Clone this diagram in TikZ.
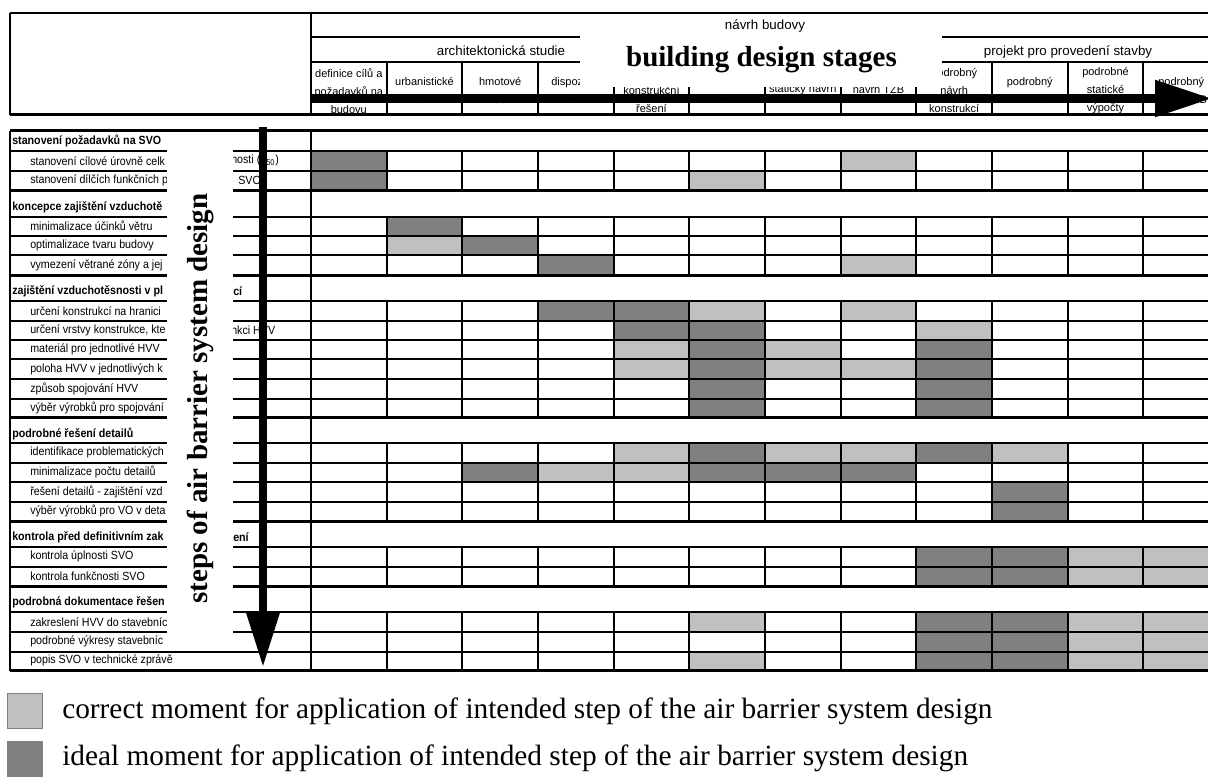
\documentclass[tikz,border=0pt]{standalone}
\usepackage{fontspec}
\setmainfont{Liberation Serif}
\newfontfamily\tabfont{Liberation Sans}
\newfontfamily\rowfont[FakeStretch=0.9]{Liberation Sans}
\usetikzlibrary{arrows.meta}

\definecolor{dkgray}{RGB}{128,128,128}
\definecolor{ltgray}{RGB}{192,192,192}

\tikzset{
  grid line/.style={line width=1.5pt},
  sect line/.style={line width=2.25pt},
  idealcell/.style={fill=dkgray},
  correctcell/.style={fill=ltgray},
  rowtext/.style={anchor=west,inner sep=0pt,font=\rowfont\fontsize{8.9}{10}\selectfont},
  secttext/.style={anchor=west,inner sep=0pt,font=\rowfont\bfseries\fontsize{8.9}{10}\selectfont},
  headtext/.style={align=center,inner sep=0pt,font=\tabfont\fontsize{8.25}{13.5}\selectfont},
  grouptext/.style={inner sep=0pt,font=\tabfont\fontsize{10}{12}\selectfont},
  bigtitle/.style={inner sep=0pt,font=\bfseries\fontsize{21.75}{26}\selectfont},
  legbox/.style={draw=gray,minimum size=26.25pt,inner sep=0pt},
  legtext/.style={anchor=west,inner sep=0pt,font=\fontsize{22}{26}\selectfont}
}

% one grey cell of the table: column, top of row, style
\newcommand{\gcell}[3]{\fill[#3] ({311+(#1-1)*75.67},#2) rectangle ({311+#1*75.67},{#2+19.6});}

\begin{document}
\begin{tikzpicture}[x=0.75pt,y=-0.75pt]
\useasboundingbox (0,0) rectangle (1208,784);
\clip (0,0) rectangle (1208,784);

% head of the table
\draw[grid line] (10,13.3) -- (1219,13.3);
\draw[sect line] (10,115) -- (1219,115);
\draw[grid line] (10,13.3) -- (10,115);
\draw[grid line] (311,13.3) -- (311,115);
\draw[grid line] (311,37.3) -- (1219,37.3);
\draw[grid line] (311,62.3) -- (1219,62.3);
\foreach \c in {1,...,11}
  \draw[grid line] ({311+\c*75.67},62.3) -- ({311+\c*75.67},115);

\node[grouptext] (g0) at (765,26) {návrh budovy};
\node[grouptext] (g1) at (501,50.5) {architektonická studie};
\node[grouptext] (g2) at (1068,51.5) {projekt pro provedení stavby};

\node[headtext] (k1) at (348.8,91) {definice cílů a\\požadavků na\\budovu};
\node[headtext] (k2) at (424.5,91) {urbanistické\\řešení};
\node[headtext] (k3) at (500.2,91) {hmotové\\řešení};
\node[headtext] (k4) at (575.8,91) {dispoziční\\řešení};
\node[headtext] (k5) at (651.5,100) {konstrukční\\řešení};
\node[headtext] (k6) at (727.2,100) {návrh};
\node[headtext] (k7) at (802.8,90) {statický návrh};
\node[headtext] (k8) at (878.5,90) {návrh TZB};
\node[headtext] (k9) at (954.2,91) {podrobný\\návrh\\konstrukcí};
\node[headtext] (k10) at (1029.8,91) {podrobný\\návrh detailů};
\node[headtext] (k11) at (1105.5,91) {podrobné\\statické\\výpočty};
\node[headtext] (k12) at (1181.2,91) {podrobný\\návrh TZB};

\fill[white] (580,34) rectangle (942,87);
\node[bigtitle] (htitle) at (761.5,60) {building design stages};

% grey cells
\foreach \c/\s in {1/idealcell,8/correctcell} {\gcell{\c}{151}{\s}}
\foreach \c/\s in {1/idealcell,6/correctcell} {\gcell{\c}{170.7}{\s}}
\foreach \c/\s in {2/idealcell} {\gcell{\c}{216.7}{\s}}
\foreach \c/\s in {2/correctcell,3/idealcell} {\gcell{\c}{236}{\s}}
\foreach \c/\s in {4/idealcell,8/correctcell} {\gcell{\c}{255.3}{\s}}
\foreach \c/\s in {4/idealcell,5/idealcell,6/correctcell,8/correctcell} {\gcell{\c}{301}{\s}}
\foreach \c/\s in {5/idealcell,6/idealcell,9/correctcell} {\gcell{\c}{320.7}{\s}}
\foreach \c/\s in {5/correctcell,6/idealcell,7/correctcell,9/idealcell} {\gcell{\c}{340}{\s}}
\foreach \c/\s in {5/correctcell,6/idealcell,7/correctcell,8/correctcell,9/idealcell} {\gcell{\c}{359.3}{\s}}
\foreach \c/\s in {6/idealcell,9/idealcell} {\gcell{\c}{379}{\s}}
\foreach \c/\s in {6/idealcell,9/idealcell} {\gcell{\c}{399}{\s}}
\foreach \c/\s in {5/correctcell,6/idealcell,7/correctcell,8/correctcell,9/idealcell,10/correctcell} {\gcell{\c}{443.3}{\s}}
\foreach \c/\s in {3/idealcell,4/correctcell,5/correctcell,6/idealcell,7/idealcell,8/idealcell} {\gcell{\c}{462.7}{\s}}
\foreach \c/\s in {10/idealcell} {\gcell{\c}{482.3}{\s}}
\foreach \c/\s in {10/idealcell} {\gcell{\c}{501.7}{\s}}
\foreach \c/\s in {9/idealcell,10/idealcell,11/correctcell,12/correctcell} {\gcell{\c}{547.3}{\s}}
\foreach \c/\s in {9/idealcell,10/idealcell,11/correctcell,12/correctcell} {\gcell{\c}{566.7}{\s}}
\foreach \c/\s in {6/correctcell,9/idealcell,10/idealcell,11/correctcell,12/correctcell} {\gcell{\c}{612.3}{\s}}
\foreach \c/\s in {9/idealcell,10/idealcell,11/correctcell,12/correctcell} {\gcell{\c}{631.7}{\s}}
\foreach \c/\s in {6/correctcell,9/idealcell,10/idealcell,11/correctcell,12/correctcell} {\gcell{\c}{651.7}{\s}}

% lines of the table
\foreach \y in {151,170.7,216.7,236,255.3,301,320.7,340,359.3,379,399,443.3,462.7,482.3,501.7,547.3,566.7,612.3,631.7,651.7}
  \draw[grid line] (10,\y) -- (1219,\y);
\foreach \y in {130.7,190.7,275.3,417.3,521.3,586.7,670.7}
  \draw[sect line] (10,\y) -- (1219,\y);
\draw[grid line] (10,130.7) -- (10,670.7);
\draw[grid line] (311,130.7) -- (311,670.7);
\foreach \a/\b in {151/190.7,216.7/275.3,301/417.3,443.3/521.3,547.3/586.7,612.3/670.7}
  \foreach \c in {1,...,12}
    \draw[grid line] ({311+\c*75.67},\a) -- ({311+\c*75.67},\b);

% steps
\node[secttext] (s1) at (12,141) {stanovení požadavků na SVO};
\node[rowtext] (r11) at (30,160.7) {stanovení cílové úrovně celk};
\node[rowtext] (r11b) at (231,160.7) {nosti (n\textsubscript{50})};
\node[rowtext] (r12) at (30,180.7) {stanovení dílčích funkčních p};
\node[rowtext] (r12b) at (238,180.7) {SVO};
\node[secttext] (s2) at (12,207) {koncepce zajištění vzduchotě};
\node[rowtext] (r21) at (30,226) {minimalizace účinků větru};
\node[rowtext] (r22) at (30,245.3) {optimalizace tvaru budovy};
\node[rowtext] (r23) at (30,265.3) {vymezení větrané zóny a jej};
\node[secttext] (s3) at (12,291.3) {zajištění vzduchotěsnosti v pl};
\node[secttext] (s3b) at (233,291.3) {cí};
\node[rowtext] (r31) at (30,310.7) {určení konstrukcí na hranici};
\node[rowtext] (r32) at (30,330) {určení vrstvy konstrukce, kte};
\node[rowtext] (r32b) at (231,330) {nkci HVV};
\node[rowtext] (r33) at (30,349.3) {materiál pro jednotlivé HVV};
\node[rowtext] (r34) at (30,369) {poloha HVV v jednotlivých k};
\node[rowtext] (r35) at (30,389) {způsob spojování HVV};
\node[rowtext] (r36) at (30,407.5) {výběr výrobků pro spojování};
\node[secttext] (s4) at (12,433.5) {podrobné řešení detailů};
\node[rowtext] (r41) at (30,452.7) {identifikace problematických};
\node[rowtext] (r42) at (30,472.3) {minimalizace počtu detailů};
\node[rowtext] (r43) at (30,491.7) {řešení detailů - zajištění vzd};
\node[rowtext] (r44) at (30,511.3) {výběr výrobků pro VO v deta};
\node[secttext] (s5) at (12,537.5) {kontrola před definitivním zak};
\node[secttext] (s5b) at (233,537.5) {ení};
\node[rowtext] (r51) at (30,556.7) {kontrola úplnosti SVO};
\node[rowtext] (r52) at (30,576.7) {kontrola funkčnosti SVO};
\node[secttext] (s6) at (12,602.5) {podrobná dokumentace řešen};
\node[rowtext] (r61) at (30,621.7) {zakreslení HVV do stavebníc};
\node[rowtext] (r62) at (30,641.7) {podrobné výkresy stavebníc};
\node[rowtext] (r63) at (30,660.7) {popis SVO v technické zprávě};

\fill[white] (167,133) rectangle (233,645);
\node[bigtitle,rotate=90] (vtitle) at (200,398.5) {steps of air barrier system design};

% arrows
\coordinate (hs) at (311,98.5);
\coordinate (he) at (1212,98.5);
\draw[line width=6.3pt,-{Triangle[length=42.75pt,width=26.25pt]}] (hs) -- (he);
\coordinate (vs) at (263,127);
\coordinate (ve) at (263,667);
\draw[line width=6pt,-{Triangle[length=41.25pt,width=24pt]}] (vs) -- (ve);

% legend
\node[legbox,fill=ltgray] (lc) at (25,711) {};
\node[legtext] (tc) at (62,711) {correct moment for application of intended step of the air barrier system design};
\node[legbox,fill=dkgray] (li) at (25,758.5) {};
\node[legtext] (ti) at (62,758.5) {ideal moment for application of intended step of the air barrier system design};
\end{tikzpicture}
\end{document}
